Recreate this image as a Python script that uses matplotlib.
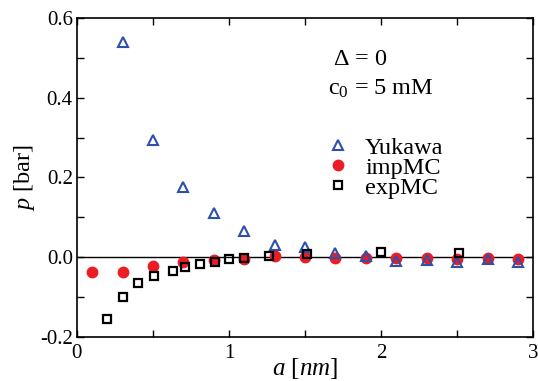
import matplotlib.pyplot as plt
import numpy as np
from matplotlib.ticker import MultipleLocator

plt.rcParams['font.family'] = ['Liberation Serif', 'DejaVu Serif']
plt.rcParams['mathtext.fontset'] = 'custom'
plt.rcParams['mathtext.rm'] = 'Liberation Serif'
plt.rcParams['mathtext.it'] = 'Liberation Serif:italic'

# Yukawa prediction
a_yuk = [0.3, 0.5, 0.7, 0.9, 1.1, 1.3, 1.5, 1.7, 1.9, 2.1, 2.3, 2.5, 2.7, 2.9]
p_yuk = [0.539, 0.293, 0.176, 0.110, 0.065, 0.030, 0.025, 0.010, 0.002,
         -0.009, -0.008, -0.012, -0.005, -0.012]

# implicit MC
a_imp = [0.1, 0.3, 0.5, 0.7, 0.9, 1.1, 1.3, 1.5, 1.7, 1.9, 2.1, 2.3, 2.5, 2.7, 2.9]
p_imp = [-0.036, -0.037, -0.023, -0.013, -0.006, -0.004, 0.003, 0.001,
         -0.003, -0.001, -0.003, -0.001, -0.005, -0.003, -0.004]

# explicit MC
a_exp = [0.2, 0.3, 0.4, 0.51, 0.63, 0.71, 0.81, 0.91, 1.0, 1.1, 1.26, 1.51, 2.0, 2.51]
p_exp = [-0.154, -0.099, -0.064, -0.047, -0.035, -0.024, -0.016, -0.011,
         -0.005, -0.001, 0.003, 0.007, 0.013, 0.011]

fig = plt.figure(figsize=(5.38, 3.81), dpi=100)
ax = fig.add_axes([0.143, 0.1155, 0.848, 0.8375])

ax.axhline(0, color='black', lw=1.0, zorder=1)
ax.plot(a_yuk, p_yuk, ls='none', marker='^', ms=7, mfc='none', mec='#2f4fa8',
        mew=1.5, label='Yukawa', zorder=3)
ax.plot(a_imp, p_imp, ls='none', marker='o', ms=7.5, mfc='#ec1c24', mec='#ec1c24',
        label='impMC', zorder=2)
ax.plot(a_exp, p_exp, ls='none', marker='s', ms=6, mfc='none', mec='black',
        mew=1.6, label='expMC', zorder=4)

ax.set_xlim(0, 3)
ax.set_ylim(-0.2, 0.6)
ax.xaxis.set_major_locator(MultipleLocator(1))
ax.xaxis.set_minor_locator(MultipleLocator(0.5))
ax.yaxis.set_major_locator(MultipleLocator(0.2))
ax.yaxis.set_minor_locator(MultipleLocator(0.1))
ax.yaxis.set_major_formatter(plt.FormatStrFormatter('%.1f'))
ax.tick_params('both', which='both', direction='in', top=True, right=True,
               length=5, width=1, labelsize=15)
ax.tick_params('y', pad=3)
ax.tick_params('x', pad=5)
for s in ax.spines.values():
    s.set_linewidth(1.2)

ax.set_xlabel(r'$a$ [$nm$]', fontsize=18, labelpad=-5)
ax.set_ylabel(r'$p$ [bar]', fontsize=17.5, labelpad=2)

ax.text(0.561, 0.853, r'$\Delta$ = 0', transform=ax.transAxes, fontsize=17.5,
        va='baseline')
ax.text(0.550, 0.759, r'c$_0$ = 5 mM', transform=ax.transAxes, fontsize=17.5,
        va='baseline')

ax.legend(loc='upper left', bbox_to_anchor=(0.5458, 0.628), frameon=False,
          fontsize=17.5, handletextpad=0.61, labelspacing=-0.08, handlelength=1.0,
          borderpad=0, borderaxespad=0)

plt.savefig('out.png', dpi=100)
